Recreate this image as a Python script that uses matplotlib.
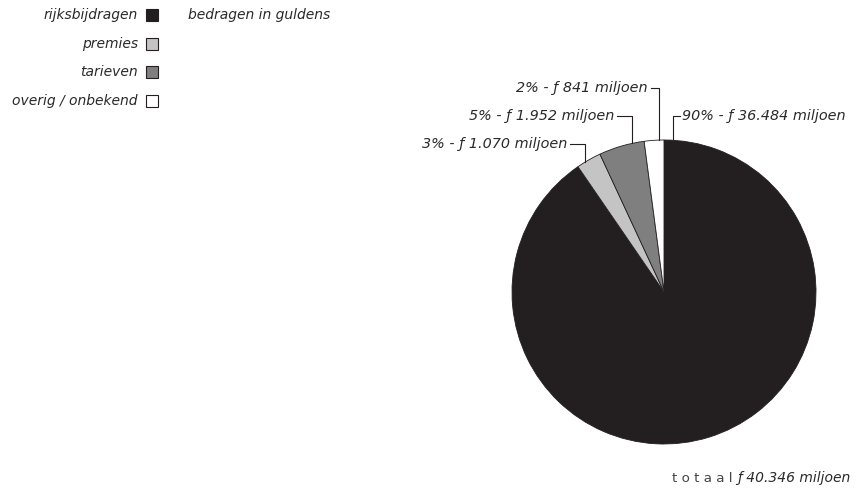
import numpy as np
import matplotlib
matplotlib.use("Agg")
import matplotlib.pyplot as plt

# data (miljoen gulden)
categories = ["rijksbijdragen", "premies", "tarieven", "overig / onbekend"]
amounts = [36484, 1070, 1952, 841]
totaal = 40346
colors = ["#231f20", "#c4c4c4", "#7f7f7f", "#ffffff"]

W, H = 856, 494
plt.rcParams["font.family"] = ["DejaVu Sans"]

fig = plt.figure(figsize=(W / 100, H / 100), dpi=100)
ax = fig.add_axes([0, 0, 1, 1])

def Y(y):
	# pixel row from top -> data y
	return H - y

cx, cy, r = 664, 292, 152
ink = "#231f20"
txt = "#2a2a2a"
fs = 10

wedges, _ = ax.pie(amounts, colors=colors, startangle=90, counterclock=False,
	center=(cx, Y(cy)), radius=r, frame=True,
	wedgeprops=dict(edgecolor=ink, linewidth=0.6))
ax.set_xlim(0, W)
ax.set_ylim(0, H)
ax.set_aspect("equal")
ax.axis("off")

def fmt(v):
	return "{:,}".format(v).replace(",", ".")

# legend
for i, c in enumerate(categories):
	yy = Y(15 + i * 28.7)
	ax.text(138, yy, c, ha="right", va="center", style="italic", fontsize=fs, color=txt)
	ax.add_patch(plt.Rectangle((146, yy - 6), 12, 12, facecolor=colors[i],
		edgecolor=ink, linewidth=0.8))
ax.text(188, Y(15), "bedragen in guldens", ha="left", va="center", style="italic",
	fontsize=fs, color=txt)

# leader labels: (x of vertical leader, y of label row, side, tick length)
leaders = {
	0: (673, 116, "right", 7),
	1: (585, 144, "left", 15),
	2: (632, 116, "left", 15),
	3: (659, 88, "left", 8),
}
s = sum(amounts)
for i, (lx, ly, side, tl) in leaders.items():
	pct = round(amounts[i] / s * 100)
	label = "%d%% - \u0192 %s miljoen" % (pct, fmt(amounts[i]))
	dy = np.sqrt(r ** 2 - (lx - cx) ** 2)
	y_edge = cy - dy
	if side == "right":
		xs = [lx, lx, lx + tl]
		ax.text(lx + tl + 2, Y(ly), label, ha="left", va="center", style="italic",
			fontsize=10.4, color=txt)
	else:
		xs = [lx, lx, lx - tl]
		ax.text(lx - tl - 3, Y(ly), label, ha="right", va="center", style="italic",
			fontsize=10.4, color=txt)
	ax.plot(xs, [Y(y_edge), Y(ly), Y(ly)], color=ink, linewidth=0.8)

# total
t = ax.text(850, Y(478), "\u0192 %s miljoen" % fmt(totaal), ha="right", va="center",
	style="italic", fontsize=fs, color=txt)
ax.annotate("t o t a a l", xy=(0, 0.5), xycoords=t, xytext=(-3, 0),
	textcoords="offset points", ha="right", va="center", fontsize=9.6, color="#444444")

fig.savefig("out.png", dpi=100)
